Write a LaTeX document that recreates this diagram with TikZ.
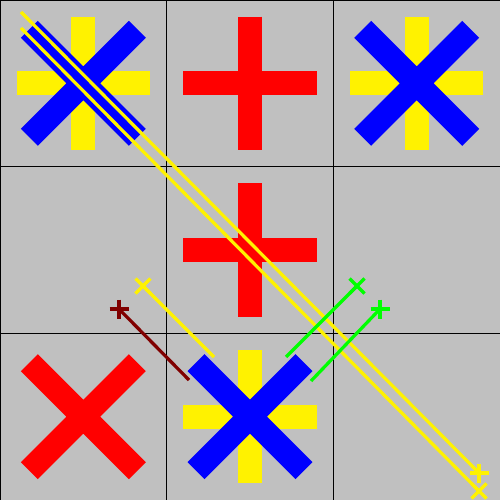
\documentclass[tikz,border=0pt]{standalone}
\usepackage{tikz}
\usetikzlibrary{calc}
\definecolor{board}{RGB}{192, 192, 192}
\definecolor{darkred}{RGB}{128, 0, 0}

\begin{document}
\begin{tikzpicture}[x=0.02cm, y=-0.02cm,
    vec/.style={line width=0.065cm},
    bigplus/.pic={\draw[line width=0.48cm] (-66.7,0) -- (66.7,0) (0,-66.7) -- (0,66.7);},
    bigx/.pic={\draw[line width=0.48cm] (-54,-54) -- (54,54) (-54,54) -- (54,-54);},
    plusmark/.pic={\draw[line width=0.08cm] (-9.5,0) -- (9.5,0) (0,-9.5) -- (0,9.5);},
    xmark/.pic={\draw[line width=0.07cm] (-7.5,-7.5) -- (7.5,7.5) (-7.5,7.5) -- (7.5,-7.5);}]
        \clip (0,0) rectangle (500,500);
        \fill[board] (0,0) rectangle (500,500);
        % grid
        \draw[line width=0.02cm] (0.5,0) -- (0.5,500) (166.7,0) -- (166.7,500) (333.3,0) -- (333.3,500);
        \draw[line width=0.02cm] (0,0.5) -- (500,0.5) (0,166.7) -- (500,166.7) (0,333.3) -- (500,333.3);
        % cell centres
        \coordinate (c00) at (83.3,83.3);
        \coordinate (c10) at (250,83.3);
        \coordinate (c20) at (416.7,83.3);
        \coordinate (c11) at (250,250);
        \coordinate (c02) at (83.3,416.7);
        \coordinate (c12) at (250,416.7);
        \pic[yellow] at (c00) {bigplus};
        \pic[blue] at (c00) {bigx};
        \pic[red] at (c10) {bigplus};
        \pic[yellow] at (c20) {bigplus};
        \pic[blue] at (c20) {bigx};
        \pic[red] at (c11) {bigplus};
        \pic[red] at (c02) {bigx};
        \pic[yellow] at (c12) {bigplus};
        \pic[blue] at (c12) {bigx};
        % moves
        \coordinate (aS) at (21,12);
        \coordinate (aE) at (479,473);
        \coordinate (bS) at (21,28);
        \coordinate (bE) at (479,491);
        \coordinate (mS) at (189,380);
        \coordinate (mE) at (119,309);
        \coordinate (yS) at (214,357);
        \coordinate (yE) at (143,286);
        \coordinate (gS) at (286,357);
        \coordinate (gE) at (357,286);
        \coordinate (hS) at (311,381);
        \coordinate (hE) at (380,309);
        \draw[vec, yellow] (aS) -- (aE);
        \pic[yellow] at (aE) {plusmark};
        \draw[vec, yellow] (bS) -- (bE);
        \pic[yellow] at (bE) {xmark};
        \draw[vec, darkred] (mS) -- (mE);
        \pic[darkred] at (mE) {plusmark};
        \draw[vec, yellow] (yS) -- (yE);
        \pic[yellow] at (yE) {xmark};
        \draw[vec, green] (gS) -- (gE);
        \pic[green] at (gE) {xmark};
        \draw[vec, green] (hS) -- (hE);
        \pic[green] at (hE) {plusmark};
      \end{tikzpicture}
\end{document}
